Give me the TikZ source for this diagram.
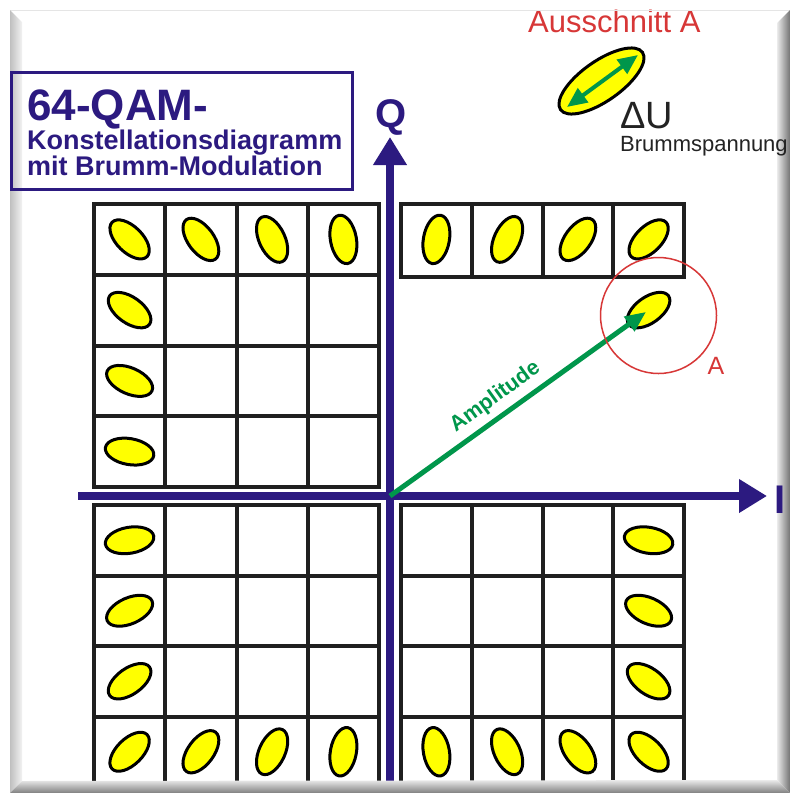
\documentclass[tikz,border=0pt]{standalone}
\usepackage{fontspec}
\setmainfont{Liberation Sans}
\usetikzlibrary{arrows.meta,shapes.geometric}
\definecolor{axisblue}{RGB}{44,26,128}
\definecolor{ampgreen}{RGB}{0,150,75}
\definecolor{cutred}{RGB}{215,55,55}
\definecolor{ptyellow}{RGB}{255,255,0}
\definecolor{darktext}{RGB}{35,35,35}
\tikzset{
  pt/.style={ellipse, draw=black, fill=ptyellow, line width=3pt, minimum width=49pt, minimum height=26pt, inner sep=0pt},
  cellline/.style={draw=black!88, line width=4pt},
  axisline/.style={draw=axisblue, line width=8pt, -{Triangle[length=28pt,width=32pt]}},
  titletext/.style={text=axisblue, font=\bfseries, inner sep=0pt, anchor=base west},
}
\begin{document}
\begin{tikzpicture}[x=1pt,y=-1pt]
\useasboundingbox (0,0) rectangle (790,793);
\fill[white] (0,0) rectangle (790,793);

% grids
\foreach \xa/\xb/\ya/\yb in {94/379/204/487, 94/379/505/787, 401/684/505/787}{
  \draw[cellline] (\xa,\ya) rectangle (\xb,\yb);
  \foreach \k in {1,2,3}{
    \draw[cellline] ({\xa+\k*(\xb-\xa)/4},\ya) -- ({\xa+\k*(\xb-\xa)/4},\yb);
    \draw[cellline] (\xa,{\ya+\k*(\yb-\ya)/4}) -- (\xb,{\ya+\k*(\yb-\ya)/4});
  }
}
\draw[cellline] (401,204) rectangle (684,277);
\foreach \k in {1,2,3}{
  \draw[cellline] ({401+\k*70.75},204) -- ({401+\k*70.75},277);
}

% constellation points
\foreach \cx/\cy [count=\k] in {
  129.6/239.4, 200.9/239.4, 272.1/239.4, 343.4/239.4,
  129.6/310.1, 129.6/380.9, 129.6/451.6,
  436.4/239.4, 507.1/239.4, 577.9/239.4, 648.6/239.4,
  129.6/540.25, 129.6/610.75, 129.6/681.25,
  129.6/751.75, 200.9/751.75, 272.1/751.75, 343.4/751.75,
  648.6/540.25, 648.6/610.75, 648.6/681.25,
  436.4/751.75, 507.1/751.75, 577.9/751.75, 648.6/751.75}{
  \node[pt, rotate={atan2(496-\cy,\cx-390)}] (p\k) at (\cx,\cy) {};
}
\node[pt, rotate={atan2(496-310.1,648.6-390)}] (ptA) at (648.6,310.1) {};

% axes
\coordinate (O) at (390,496);
\coordinate (qbot) at (390,790);
\coordinate (qtop) at (390,137);
\coordinate (ileft) at (78,496);
\coordinate (iright) at (767,496);
\draw[axisline] (qbot) -- (qtop);
\draw[axisline] (ileft) -- (iright);
\node[text=axisblue, font=\fontsize{40}{40}\selectfont\bfseries, inner sep=0pt] (qlabel) at (391,117) {Q};

% amplitude arrow
\draw[draw=ampgreen, line width=5pt, shorten >=3pt, -{Triangle[length=21pt,width=17pt]}] (O) -- node[pos=0.45, sloped, above=3pt, text=ampgreen, font=\fontsize{21.5}{21.5}\selectfont\bfseries] (amplabel) {Amplitude} (ptA.center);

% cut-out circle
\node[circle, draw=cutred, line width=1.5pt, minimum size=116pt, inner sep=0pt] (cutcircle) at (658.5,315.5) {};
\node[text=cutred, font=\fontsize{25}{25}\selectfont, inner sep=0pt] (alabel) at (716,366) {A};

% Ausschnitt A
\node[text=cutred, font=\fontsize{31}{31}\selectfont, inner sep=0pt, anchor=base west] (aus) at (528,32) {Ausschnitt A};
\node[ellipse, draw=black, fill=ptyellow, line width=3pt, minimum width=100pt, minimum height=40pt, inner sep=0pt, rotate=35] (bigpt) at (601.5,81) {};
\coordinate (du1) at (567,107);
\coordinate (du2) at (638,55);
\draw[draw=ampgreen, line width=4pt, {Triangle[length=20pt,width=17pt]}-{Triangle[length=20pt,width=17pt]}] (du1) -- (du2);

% frame
\draw[black!10, line width=1pt] (10,10) -- (790,10);
\shade[left color=black!25, right color=black!5] (10,10) -- (22,22) -- (22,781) -- (10,793) -- cycle;
\shade[left color=black!8, right color=black!55] (790,10) -- (777,23) -- (777,780) -- (790,793) -- cycle;
\shade[top color=black!8, bottom color=black!50] (10,793) -- (22,781) -- (777,780) -- (790,793) -- cycle;

% title box
\node[draw=axisblue, line width=3pt, minimum width=341pt, minimum height=117pt, inner sep=0pt] (titlebox) at (181.5,130.5) {};
\node[titletext, font=\fontsize{44}{44}\selectfont\bfseries] (t1) at (27,120) {64-QAM-};
\node[titletext, font=\fontsize{27}{27}\selectfont\bfseries] (t2) at (27,149) {Konstellationsdiagramm};
\node[titletext, font=\fontsize{27}{27}\selectfont\bfseries] (t3) at (27,175) {mit Brumm-Modulation};

% texts over frame edge
\node[text=darktext, font=\fontsize{38}{38}\selectfont, inner sep=0pt, anchor=base west] (du) at (620,128) {ΔU};
\node[text=darktext, font=\fontsize{22}{22}\selectfont, inner sep=0pt, anchor=base west] (brumm) at (620,151) {Brummspannung};
\node[text=axisblue, font=\fontsize{40}{40}\selectfont\bfseries, inner sep=0pt] (ilabel) at (780,500) {I};
\end{tikzpicture}
\end{document}
